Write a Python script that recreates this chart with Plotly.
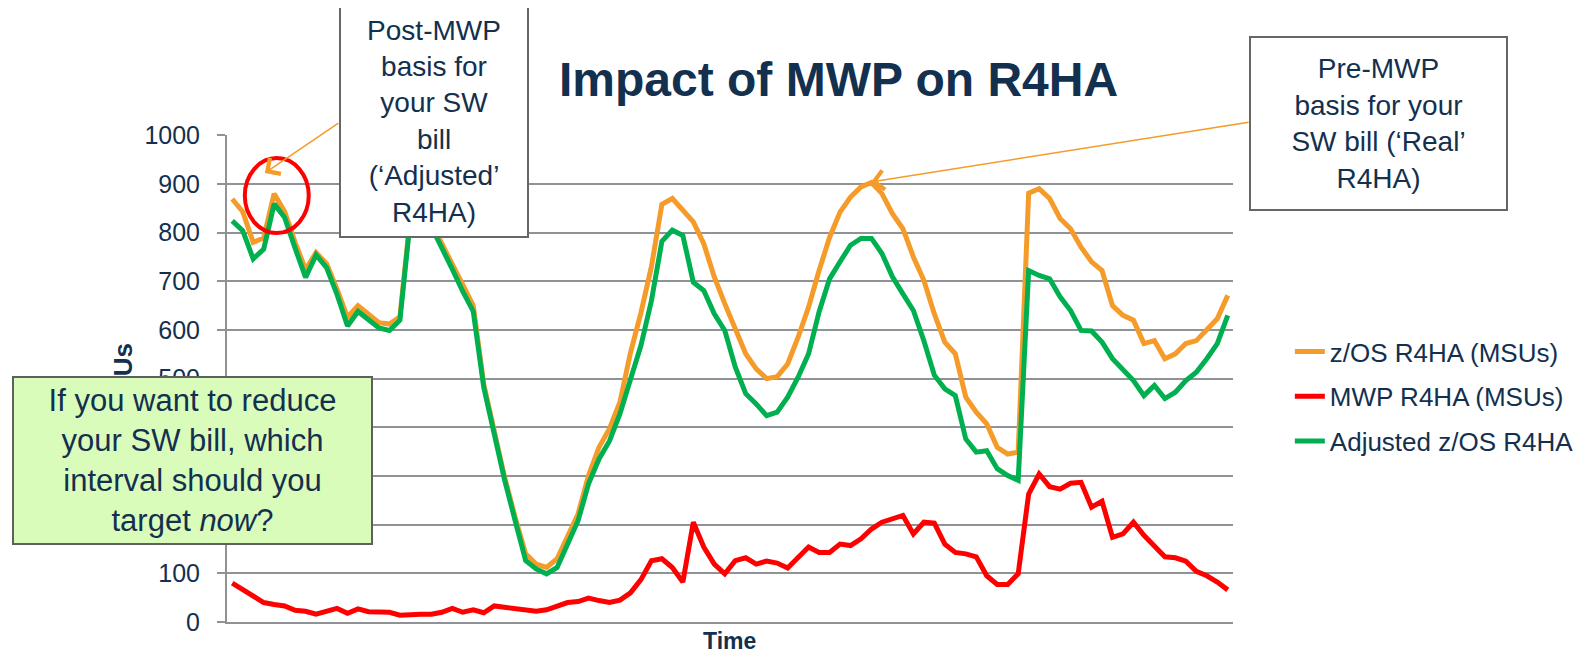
import plotly.graph_objects as go

# ---------------- data ----------------
interval = list(range(96))

zos_r4ha = [869, 843, 780, 789, 880, 843, 780, 724, 759, 736,
            684, 626, 650, 631, 615, 612, 627, 835, 850, 820,
            777, 732, 688, 650, 489, 393, 297, 215, 140, 119,
            112, 130, 174, 222, 301, 359, 397, 452, 553, 635,
            730, 858, 870, 846, 822, 777, 709, 654, 599, 551,
            520, 500, 504, 530, 585, 647, 722, 790, 842, 873,
            894, 903, 880, 839, 808, 750, 702, 633, 575, 551,
            462, 431, 407, 359, 345, 349, 881, 890, 870, 829,
            808, 770, 740, 722, 650, 630, 620, 572, 578, 541,
            551, 572, 578, 602, 623, 671]

mwp_r4ha = [80, 66, 52, 40, 36, 33, 24, 22, 16, 23,
            28, 18, 27, 21, 21, 20, 14, 16, 16, 16,
            20, 28, 20, 25, 19, 33, 30, 27, 24, 22,
            25, 33, 40, 42, 49, 44, 40, 45, 60, 87,
            126, 130, 112, 82, 205, 154, 119, 99, 126, 132,
            119, 125, 121, 111, 133, 154, 143, 143, 160, 157,
            171, 191, 205, 212, 219, 181, 205, 203, 160, 143,
            140, 134, 95, 77, 77, 99, 263, 304, 278, 273,
            285, 287, 236, 248, 174, 181, 205, 178, 157, 134,
            132, 125, 104, 95, 82, 66]

adj_r4ha = [824, 804, 746, 766, 859, 831, 768, 708, 754, 728,
            673, 608, 638, 621, 604, 599, 620, 828, 845, 812,
            770, 725, 679, 638, 482, 387, 291, 208, 126, 109,
            99, 112, 160, 208, 284, 335, 372, 428, 498, 568,
            660, 782, 805, 794, 698, 681, 633, 599, 524, 469,
            448, 424, 431, 462, 503, 551, 637, 705, 740, 774,
            788, 788, 757, 709, 674, 640, 578, 507, 479, 465,
            376, 349, 352, 315, 301, 291, 722, 712, 705, 668,
            640, 599, 598, 575, 541, 517, 496, 465, 486, 459,
            472, 496, 513, 541, 572, 630]

series_names = ["z/OS R4HA (MSUs)", "MWP R4HA (MSUs)", "Adjusted z/OS R4HA"]
y_ticks = [0, 100, 200, 300, 400, 500, 600, 700, 800, 900, 1000]

# ---------------- styling ----------------
WIN_W, WIN_H = 1591, 654
OFF = 8                      # default page margin of the html body
W, H = WIN_W - OFF, WIN_H - OFF
# plot area in window pixels
L, R, T, B = 227, 1236, 135, 622
FONT = "Arial, 'Liberation Sans', sans-serif"
NAVY = "#13304f"
GRID = "#909296"
ORANGE = "#F59B29"
RED = "#FF0000"
GREEN = "#00B050"


def px(x):
    return (x - L) / (R - L)


def py(y):
    return (B - y) / (B - T)


fig = go.Figure()
for name, vals, col in zip(series_names, [zos_r4ha, mwp_r4ha, adj_r4ha], [ORANGE, RED, GREEN]):
    fig.add_trace(go.Scatter(
        x=interval, y=vals, mode="lines", name=name, legendgroup=name,
        line=dict(color=col, width=5),
    ))

annotations = [
    # chart title
    dict(text="<b>Impact of MWP on R4HA</b>", x=px(840), y=py(79), xref="paper", yref="paper",
         showarrow=False, xanchor="center", yanchor="middle",
         font=dict(family=FONT, size=48, color=NAVY)),
    # axis titles
    dict(text="<b>Time</b>", x=px(731), y=py(641), xref="paper", yref="paper",
         showarrow=False, xanchor="center", yanchor="middle",
         font=dict(family=FONT, size=23, color=NAVY)),
    dict(text="<b>MSUs</b>", x=px(123), y=py(379), xref="paper", yref="paper",
         showarrow=False, xanchor="center", yanchor="middle", textangle=-90,
         font=dict(family=FONT, size=26, color=NAVY)),
    # arrows
    dict(text="", x=px(265), y=py(173), xref="paper", yref="paper",
         ax=75, ay=-51, showarrow=True, arrowhead=4, arrowsize=2.5, arrowwidth=1.5,
         arrowcolor=ORANGE, standoff=0),
    dict(text="", x=px(873), y=py(182), xref="paper", yref="paper",
         ax=379, ay=-60, showarrow=True, arrowhead=4, arrowsize=2.5, arrowwidth=1.5,
         arrowcolor=ORANGE, standoff=0),
    # callout boxes
    dict(text="Post-MWP<br>basis for<br>your SW<br>bill<br>(\u2018Adjusted\u2019<br>R4HA)",
         x=px(435), y=py(121), xref="paper", yref="paper", showarrow=False,
         xanchor="center", yanchor="middle", width=186, height=230,
         bgcolor="white", bordercolor="#666666", borderwidth=2, borderpad=0,
         font=dict(family=FONT, size=28, color=NAVY)),
    dict(text="Pre-MWP<br>basis for your<br>SW bill (\u2018Real\u2019<br>R4HA)",
         x=px(1381.5), y=py(123.5), xref="paper", yref="paper", showarrow=False,
         xanchor="center", yanchor="middle", width=255, height=171,
         bgcolor="white", bordercolor="#666666", borderwidth=2, borderpad=0,
         font=dict(family=FONT, size=28, color=NAVY)),
    dict(text="If you want to reduce<br>your SW bill, which<br>interval should you<br>target <i>now</i>?",
         x=px(192.5), y=py(460.5), xref="paper", yref="paper", showarrow=False,
         xanchor="center", yanchor="middle", width=357, height=165,
         bgcolor="#D9FCBB", bordercolor="#5f5f5f", borderwidth=2, borderpad=0,
         font=dict(family=FONT, size=31, color=NAVY)),
]

shapes = [
    dict(type="circle", xref="x", yref="y", x0=1.2, x1=7.3, y0=799, y1=953,
         line=dict(color=RED, width=4), layer="above"),
]

fig.update_layout(
    width=W, height=H,
    margin=dict(l=L - OFF, r=WIN_W - R, t=T - OFF, b=WIN_H - B, pad=0),
    paper_bgcolor="white", plot_bgcolor="white",
    font=dict(family=FONT, color=NAVY),
    showlegend=True,
    legend=dict(x=px(1293), y=py(328), xanchor="left", yanchor="top",
                font=dict(family=FONT, size=26, color=NAVY),
                bgcolor="rgba(0,0,0,0)", tracegroupgap=8, itemwidth=30),
    annotations=annotations,
    shapes=shapes,
)

fig.update_xaxes(range=[-0.5, 95.5], showgrid=False, zeroline=False, showticklabels=False,
                 ticks="", showline=True, linecolor=GRID, linewidth=2)
fig.update_yaxes(range=[0, 1000.5], tickvals=y_ticks, showgrid=True, gridcolor=GRID, gridwidth=2,
                 zeroline=False, showline=True, linecolor=GRID, linewidth=2,
                 ticks="outside", ticklen=8, tickcolor=GRID, tickwidth=2,
                 ticklabelstandoff=12,
                 tickfont=dict(family=FONT, size=25, color=NAVY))

fig.write_html("out.html")
